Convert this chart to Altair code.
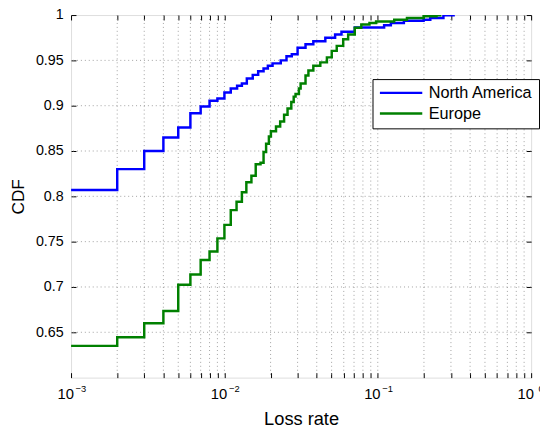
import altair as alt
import pandas as pd

# ---------------- data ----------------
regions = ["North America", "Europe"]
colors = ["#0000ff", "#008000"]

na_loss = [0.001, 0.002, 0.003, 0.004, 0.005, 0.006, 0.007, 0.008, 0.009, 0.010,
           0.011, 0.0121, 0.013, 0.014, 0.0153, 0.0166, 0.018, 0.0192, 0.0206,
           0.0233, 0.0254, 0.0275, 0.030, 0.0338, 0.038, 0.0455, 0.0527, 0.058,
           0.0708, 0.110, 0.1217, 0.148, 0.199, 0.22, 0.268, 0.318]
na_cdf = [0.807, 0.830, 0.850, 0.865, 0.876, 0.8917, 0.899, 0.9054, 0.908, 0.9145,
          0.919, 0.922, 0.9245, 0.930, 0.934, 0.938, 0.941, 0.944, 0.9467,
          0.950, 0.9545, 0.9568, 0.964, 0.9677, 0.971, 0.975, 0.9786, 0.9815,
          0.9862, 0.9888, 0.9913, 0.9938, 0.9949, 0.9967, 0.9997, 0.9997]

eu_loss = [0.001, 0.002, 0.003, 0.004, 0.005, 0.006, 0.007, 0.008, 0.009, 0.010,
           0.011, 0.012, 0.013, 0.0139, 0.0150, 0.0160, 0.0172, 0.0180, 0.0187,
           0.0195, 0.0201, 0.0217, 0.0231, 0.0245, 0.0258, 0.0273, 0.0283, 0.0291,
           0.0306, 0.0314, 0.0338, 0.0353, 0.0380, 0.0422, 0.0466, 0.0501, 0.0540,
           0.0595, 0.0641, 0.0708, 0.0781, 0.0883, 0.0975, 0.128, 0.155, 0.199,
           0.2415, 0.26]
eu_cdf = [0.635, 0.6446, 0.660, 0.6735, 0.7025, 0.7138, 0.7297, 0.7391, 0.7536, 0.7685,
          0.7848, 0.794, 0.8046, 0.8155, 0.8228, 0.8355, 0.837, 0.849, 0.858,
          0.866, 0.8717, 0.877, 0.8826, 0.890, 0.897, 0.904, 0.910, 0.913,
          0.919, 0.9246, 0.9333, 0.9388, 0.944, 0.9478, 0.9533, 0.9605, 0.966,
          0.9732, 0.9786, 0.9859, 0.9895, 0.9913, 0.993, 0.9949, 0.9967, 0.9986,
          0.9998, 0.9998]

x_major = [0.001, 0.01, 0.1, 1.0]
x_major_base = ["10", "10", "10", "10"]
x_major_exp = ["−3", "−2", "−1", "0"]
x_minor = [m * d for d in [0.001, 0.01, 0.1] for m in range(2, 10)]
x_all_ticks = sorted(x_major + x_minor)
x_grid = [v for v in x_all_ticks if 0.001 < v < 1.0]

y_ticks = [0.65, 0.7, 0.75, 0.8, 0.85, 0.9, 0.95, 1.0]
y_grid = [0.65, 0.7, 0.75, 0.8, 0.85, 0.9, 0.95]

# ---------------- tables ----------------
df = pd.concat([
    pd.DataFrame({"loss": na_loss, "cdf": na_cdf, "region": regions[0]}),
    pd.DataFrame({"loss": eu_loss, "cdf": eu_cdf, "region": regions[1]}),
], ignore_index=True)
xg = pd.DataFrame({"v": x_grid})
yg = pd.DataFrame({"v": y_grid})
xm = pd.DataFrame({"v": x_major})

FONT = "Liberation Sans"
xscale = alt.Scale(type="log", domain=[0.001, 1.0], nice=False)
yscale = alt.Scale(domain=[0.6, 1.0], nice=False, zero=False)


def major_expr(texts):
    return " : ".join(
        f"abs(datum.value - {v}) < {v * 1e-6} ? '{t}'" for v, t in zip(x_major, texts)
    ) + " : ''"


TICK = 5
common_axis = dict(domain=False, grid=False, tickSize=TICK, offset=-TICK,
                   tickColor="black", tickWidth=1,
                   labelFont=FONT, labelFontSize=14.5, labelColor="black",
                   titleFont=FONT, titleFontSize=17.5, titleFontWeight="normal",
                   titleColor="black")

grid_style = dict(strokeDash=[1, 3], color="#888888", strokeWidth=0.8)

xgrid_layer = alt.Chart(xg).mark_rule(**grid_style).encode(
    x=alt.X("v:Q", scale=xscale,
            axis=alt.Axis(orient="top", values=x_all_ticks, labels=False, title=None,
                          **common_axis))
)

ygrid_layer = alt.Chart(yg).mark_rule(**grid_style).encode(
    y=alt.Y("v:Q", scale=yscale,
            axis=alt.Axis(orient="right", values=y_ticks, labels=False, title=None,
                          **common_axis))
)

# exponent labels of the log axis (small, raised, to the right of "10")
exp_layer = alt.Chart(xm).mark_point(opacity=0).encode(
    x=alt.X("v:Q", scale=xscale,
            axis=alt.Axis(orient="bottom", values=x_major, labelExpr=major_expr(x_major_exp),
                          title=None, domain=False, grid=False, ticks=False, tickSize=0,
                          offset=0, labelPadding=6, labelOffset=9.5,
                          labelFont=FONT, labelFontSize=9.5, labelColor="black",
                          labelFlush=False, labelOverlap=False))
)

lines = alt.Chart(df).mark_line(interpolate="step-after", strokeWidth=2.5, clip=True).encode(
    x=alt.X("loss:Q", scale=xscale,
            axis=alt.Axis(orient="bottom", values=x_all_ticks, labelExpr=major_expr(x_major_base),
                          title="Loss rate", labelPadding=9, titlePadding=9, labelOffset=-6,
                          labelFlush=False, labelOverlap=False,
                          **{**common_axis, "labelFontSize": 15, "titleFontSize": 18.5})),
    y=alt.Y("cdf:Q", scale=yscale,
            axis=alt.Axis(orient="left", values=y_ticks, format=".2~f",
                          title="CDF", labelPadding=8, titlePadding=8, **common_axis)),
    color=alt.Color("region:N", sort=regions,
                    scale=alt.Scale(domain=regions, range=colors),
                    legend=alt.Legend(orient="none", legendX=306, legendY=65, title=None,
                                      fillColor="white", strokeColor="black", padding=6,
                                      symbolType="stroke", symbolStrokeWidth=2.5,
                                      symbolSize=1849, clipHeight=16, rowPadding=4,
                                      labelFont=FONT, labelFontSize=16.5, labelColor="black",
                                      labelOffset=5, labelLimit=300)),
)

chart = alt.layer(xgrid_layer, ygrid_layer, exp_layer, lines).resolve_axis(
    x="independent", y="independent"
).properties(
    width=467, height=368,
    autosize=alt.AutoSizeParams(type="none"),
    padding={"left": 64, "top": 4, "right": 9, "bottom": 49},
).configure_view(stroke="black", strokeWidth=1.2).configure(background="white")

chart.save("out.html", embed_options={"renderer": "svg", "actions": False})
